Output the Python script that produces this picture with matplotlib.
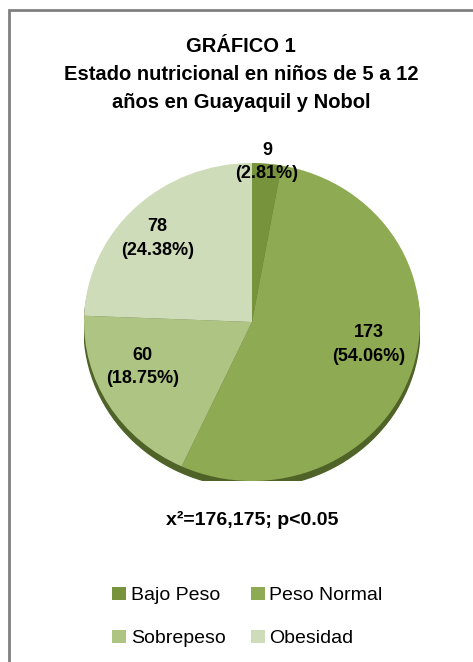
import numpy as np
import matplotlib.pyplot as plt
from matplotlib.patches import Ellipse, Rectangle

# Datos del gráfico
categorias = ["Bajo Peso", "Peso Normal", "Sobrepeso", "Obesidad"]
valores = [9, 173, 60, 78]
porcentajes = ["2.81%", "54.06%", "18.75%", "24.38%"]
colores = ["#77933C", "#8EAA52", "#AEC483", "#CFDCBA"]

titulo = "GRÁFICO 1\nEstado nutricional en niños de 5 a 12\naños en Guayaquil y Nobol"
nota = "x²=176,175; p<0.05"

# distancia de cada etiqueta al centro y pequeño giro (grados)
dist_etiqueta = [1.01, 0.71, 0.71, 0.77]
giro_etiqueta = [0, 6, -8, 3]

plt.rcParams['font.family'] = ['Liberation Sans', 'DejaVu Sans']

W, H = 473, 662
fig = plt.figure(figsize=(W / 100, H / 100), dpi=100)

# Marco gris (solo se ven los bordes superior e izquierdo)
fig.patches.append(Rectangle((9 / W, -0.1), 1.2, (H - 10) / H + 0.1,
                             transform=fig.transFigure, fill=False,
                             edgecolor="#808080", linewidth=2))

fig.text(0.509, (H - 74) / H, titulo, ha="center", va="center",
         fontsize=14.5, fontweight="bold", linespacing=1.6)

# Ejes del pastel (ligeramente elíptico, como en Excel 3D)
cx, cy, rx, ry = 252, 322, 168, 159
ax = fig.add_axes([(cx - rx) / W, (H - cy - ry) / H, 2 * rx / W, 2 * ry / H])

# sombra inferior
ax.add_patch(Ellipse((0, -0.04), 2.0, 2.0, color="#4F6228", zorder=0))

cunas, _ = ax.pie(valores, colors=colores, startangle=90, counterclock=False,
                  radius=1, wedgeprops=dict(linewidth=0))
ax.set_aspect("auto")
ax.set_xlim(-1, 1)
ax.set_ylim(-1, 1)
ax.axis("off")

for i, w in enumerate(cunas):
    ang = np.deg2rad((w.theta1 + w.theta2) / 2 + giro_etiqueta[i])
    d = dist_etiqueta[i]
    ax.text(d * np.cos(ang), d * np.sin(ang),
            f"{valores[i]}\n({porcentajes[i]})", ha="center", va="center",
            fontsize=13, fontweight="bold", linespacing=1.5)

fig.text(252 / W, (H - 520) / H, nota, ha="center", va="center",
         fontsize=14, fontweight="bold")

# leyenda en orden por filas: Bajo Peso, Peso Normal / Sobrepeso, Obesidad
orden = [0, 2, 1, 3]
fig.legend([cunas[i] for i in orden], [categorias[i] for i in orden],
           ncol=2, loc="center", bbox_to_anchor=(247.5 / W, (H - 617) / H),
           frameon=False, fontsize=14, handlelength=0.7, handleheight=0.7,
           handletextpad=0.25, columnspacing=1.3, labelspacing=1.3)

fig.savefig("out.png", dpi=100)
